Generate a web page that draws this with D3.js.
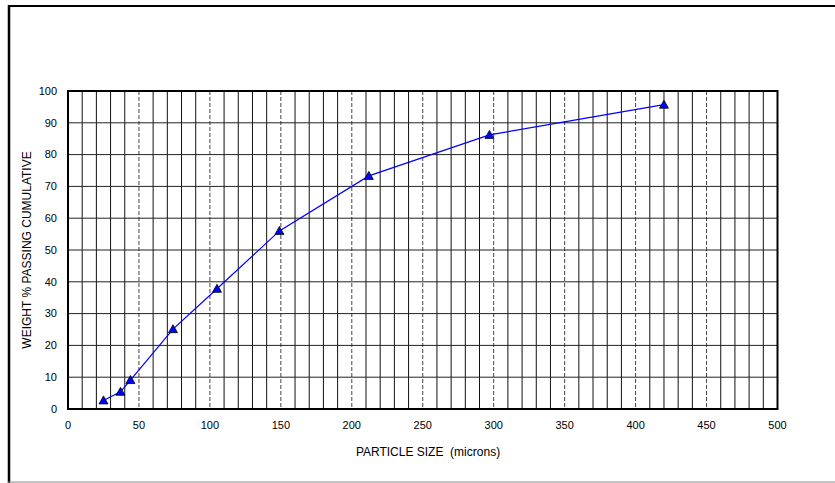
<!DOCTYPE html>
<html lang="en">
<head>
  <meta charset="UTF-8">
  <title>Particle Size Distribution</title>
  <script src="https://d3js.org/d3.v7.min.js"></script>
  <style>
    body {
      margin: 0;
      background-color: #fff;
    }

    svg {
      display: block;
      font-family: Arial, "Liberation Sans", sans-serif;
    }

    .tick-label {
      font-size: 11px;
      fill: #000;
    }

    .axis-title {
      font-size: 12px;
      fill: #000;
    }
  </style>
</head>
<body>

<svg width="835" height="483"></svg>

<script>
  // sieve sizes (microns) and cumulative weight % passing
  const particleSize = [25, 37, 44, 74, 105, 149, 212, 297, 420];
  const pctPassing = [2.7, 5.4, 9.1, 25.1, 37.8, 56.0, 73.3, 86.2, 95.7];

  const xTicks = [0, 50, 100, 150, 200, 250, 300, 350, 400, 450, 500];
  const yTicks = [0, 10, 20, 30, 40, 50, 60, 70, 80, 90, 100];

  const svg = d3.select("svg");
  const width = +svg.attr("width");
  const height = +svg.attr("height");

  const margin = {left: 68, right: 58, top: 91, bottom: 74};

  const x = d3.scaleLinear()
          .domain([0, 500])
          .range([margin.left, width - margin.right + 0.5]);

  const y = d3.scaleLinear()
          .domain([0, 100])
          .range([height - margin.bottom, margin.top]);

  // outer chart frame
  svg.append("line")
          .attr("x1", 8).attr("x2", width).attr("y1", 6).attr("y2", 6)
          .attr("stroke", "#000").attr("stroke-width", 2);
  svg.append("line")
          .attr("x1", 9).attr("x2", 9).attr("y1", 5).attr("y2", height)
          .attr("stroke", "#000").attr("stroke-width", 2.5);
  svg.append("line")
          .attr("x1", 8).attr("x2", width).attr("y1", 482).attr("y2", 482)
          .attr("stroke", "#888").attr("stroke-width", 1);

  // vertical grid every 10 microns, dashed on the labelled ticks
  const vGrid = d3.range(10, 500, 10);
  svg.append("g")
          .selectAll("line")
          .data(vGrid)
          .join("line")
          .attr("x1", d => x(d)).attr("x2", d => x(d))
          .attr("y1", y(100)).attr("y2", y(0))
          .attr("stroke", d => d % 50 === 0 ? "#444" : "#111")
          .attr("stroke-width", 1)
          .attr("stroke-dasharray", d => d % 50 === 0 ? "4,2" : null);

  // horizontal grid
  svg.append("g")
          .selectAll("line")
          .data(yTicks.slice(1, -1))
          .join("line")
          .attr("x1", x(0)).attr("x2", x(500))
          .attr("y1", d => y(d)).attr("y2", d => y(d))
          .attr("stroke", "#222")
          .attr("stroke-width", 1);

  // plot frame
  svg.append("rect")
          .attr("x", x(0)).attr("y", y(100))
          .attr("width", x(500) - x(0))
          .attr("height", y(0) - y(100))
          .attr("fill", "none")
          .attr("stroke", "#000")
          .attr("stroke-width", 2);

  // tick labels
  svg.append("g")
          .selectAll("text")
          .data(xTicks)
          .join("text")
          .attr("class", "tick-label")
          .attr("x", d => x(d))
          .attr("y", y(0) + 20)
          .attr("text-anchor", "middle")
          .text(d => d);

  svg.append("g")
          .selectAll("text")
          .data(yTicks)
          .join("text")
          .attr("class", "tick-label")
          .attr("x", x(0) - 11)
          .attr("y", d => y(d))
          .attr("dy", "0.35em")
          .attr("text-anchor", "end")
          .text(d => d);

  // axis titles
  svg.append("text")
          .attr("class", "axis-title")
          .attr("x", 428)
          .attr("y", 456)
          .attr("text-anchor", "middle")
          .attr("xml:space", "preserve")
          .text("PARTICLE SIZE  (microns)");

  svg.append("text")
          .attr("class", "axis-title")
          .attr("transform", `translate(31,${(y(0) + y(100)) / 2}) rotate(-90)`)
          .attr("text-anchor", "middle")
          .text("WEIGHT % PASSING CUMULATIVE");

  // data line and markers
  const points = particleSize.map((s, i) => [s, pctPassing[i]]);

  svg.append("path")
          .datum(points)
          .attr("fill", "none")
          .attr("stroke", "#0000ff")
          .attr("stroke-width", 1.2)
          .attr("d", d3.line().x(d => x(d[0])).y(d => y(d[1])));

  svg.append("g")
          .selectAll("path")
          .data(points)
          .join("path")
          .attr("transform", d => `translate(${x(d[0])},${y(d[1])})`)
          .attr("d", "M0,-4.5L4.5,3.5L-4.5,3.5Z")
          .attr("fill", "#0000ff")
          .attr("stroke", "#000")
          .attr("stroke-width", 0.8);
</script>
</body>
</html>
